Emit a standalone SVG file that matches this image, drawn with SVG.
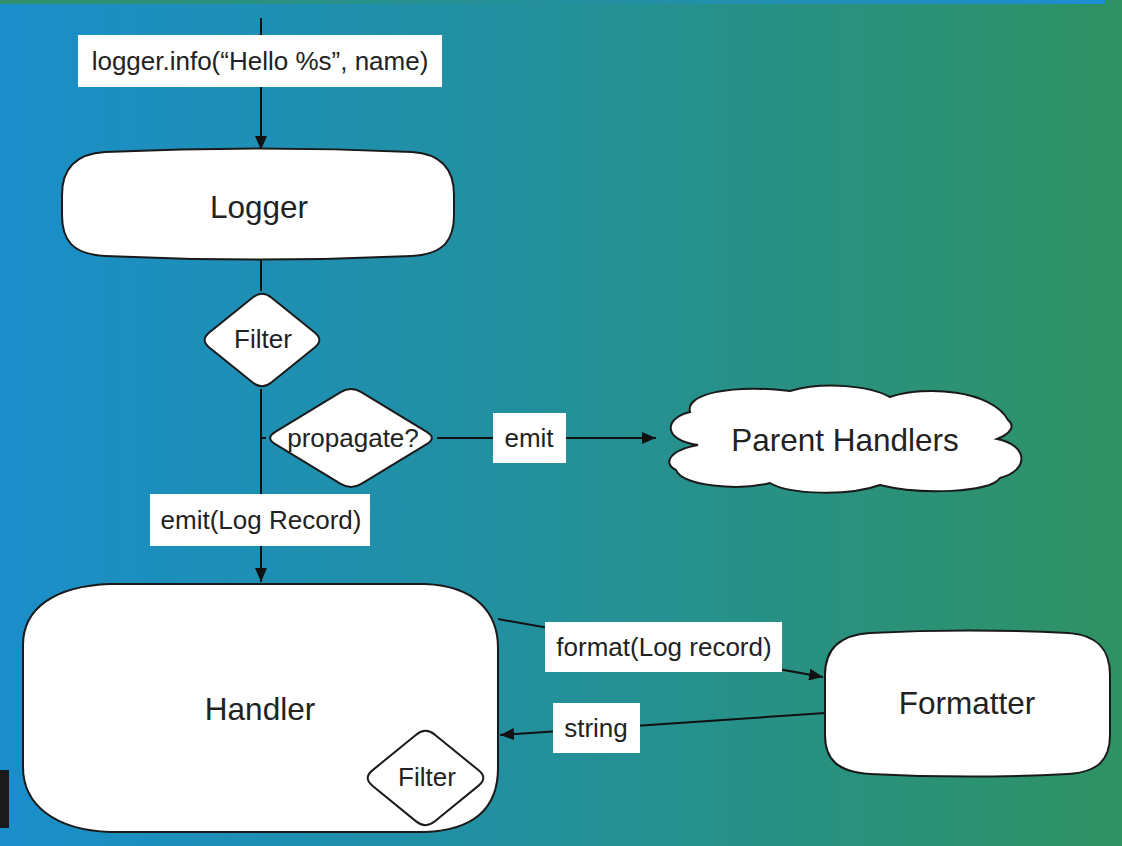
<svg xmlns="http://www.w3.org/2000/svg" width="1122" height="846" viewBox="0 0 1122 846">
<defs>
<linearGradient id="bg" x1="0" y1="0" x2="1" y2="0">
<stop offset="0" stop-color="#1a8ecb"/>
<stop offset="0.45" stop-color="#22909f"/>
<stop offset="1" stop-color="#2f9263"/>
</linearGradient>
<linearGradient id="stripe" x1="0" y1="0" x2="1" y2="0">
<stop offset="0" stop-color="#2e9168"/>
<stop offset="1" stop-color="#1c8fd3"/>
</linearGradient>
<marker id="arr" viewBox="0 0 14 12" refX="14" refY="6" markerWidth="14" markerHeight="12" markerUnits="userSpaceOnUse" orient="auto">
<path d="M0 0 L14 6 L0 12 Z" fill="#111"/>
</marker>
<style>
.shape{fill:#fff;stroke:#1a1a1a;stroke-width:2}
.lbl{fill:#fff}
.t{font-family:"Liberation Sans",Arial,sans-serif;fill:#222;text-anchor:middle;dominant-baseline:central}
.s{font-size:26px}
.b{font-size:31.5px}
.c{fill:none;stroke:#111;stroke-width:2}
</style>
</defs>
<rect x="0" y="0" width="1122" height="846" fill="url(#bg)"/>
<rect x="0" y="0" width="1105" height="4" fill="url(#stripe)"/>
<rect x="0" y="770" width="9" height="58" fill="#1a1a1a"/>

<g id="connectors">
<line class="c" x1="261" y1="18" x2="261" y2="150" marker-end="url(#arr)"/>
<line class="c" x1="261" y1="258" x2="261" y2="291"/>
<line class="c" x1="261" y1="389" x2="261" y2="582" marker-end="url(#arr)"/>
<line class="c" x1="261" y1="438" x2="266" y2="438"/>
<line class="c" x1="437" y1="438" x2="656" y2="438" marker-end="url(#arr)"/>
<line class="c" x1="498" y1="619" x2="823" y2="677" marker-end="url(#arr)"/>
<line class="c" x1="825" y1="713" x2="500" y2="735" marker-end="url(#arr)"/>
</g>

<g id="label-call">
<rect class="lbl" x="78" y="35" width="364" height="52"/>
<text class="t s" x="260" y="61">logger.info(“Hello %s”, name)</text>
</g>

<g id="logger">
<path class="shape" d="M105 152 Q258 145 412 152 C444 154 454 172 454 195 L454 215 C454 240 444 254 412 256 Q258 263 105 256 C72 254 62 240 62 215 L62 195 C62 172 72 154 105 152 Z"/>
<text class="t b" x="259" y="207">Logger</text>
</g>

<g id="filter1">
<path class="shape" d="M271.3 297.5 L314.7 332.5 Q324 340 314.7 347.5 L271.3 382.5 Q262 390 252.7 382.5 L209.3 347.5 Q200 340 209.3 332.5 L252.7 297.5 Q262 290 271.3 297.5 Z"/>
<text class="t s" x="263" y="339">Filter</text>
</g>

<g id="propagate">
<path class="shape" d="M361.3 392.2 L426.7 431.8 Q437 438 426.7 444.2 L361.3 483.8 Q351 490 340.7 483.8 L275.3 444.2 Q265 438 275.3 431.8 L340.7 392.2 Q351 386 361.3 392.2 Z"/>
<text class="t s" x="353" y="438">propagate?</text>
</g>

<g id="label-emit">
<rect class="lbl" x="493" y="413" width="73" height="50"/>
<text class="t s" x="529" y="438">emit</text>
</g>

<g id="parent-handlers">
<path class="shape" d="M698 445 C662 440 664 418 690 412 C685 394 730 384 790 391 C825 381 870 386 890 397 C925 385 992 390 1008 420 C1016 426 1010 434 997 439 C1028 445 1030 470 1000 478 C990 493 920 495 880 485 C850 496 790 495 770 483 C738 491 682 486 676 470 C662 463 670 450 698 445 Z"/>
<text class="t b" x="845" y="440">Parent Handlers</text>
</g>

<g id="label-emit-record">
<rect class="lbl" x="150" y="494" width="220" height="52"/>
<text class="t s" x="261" y="520">emit(Log Record)</text>
</g>

<g id="handler">
<path class="shape" d="M110 584 L425 584 C475 586 498 612 498 648 L498 768 C498 808 475 830 425 832 L110 832 C55 830 23 805 23 767 L23 645 C23 608 55 586 110 584 Z"/>
<text class="t b" x="260" y="709">Handler</text>
</g>

<g id="filter2">
<path class="shape" d="M434.9 734.65 L478.6 770.35 Q488 778 478.6 785.65 L434.9 821.35 Q425.5 829 416.1 821.35 L372.4 785.65 Q363 778 372.4 770.35 L416.1 734.65 Q425.5 727 434.9 734.65 Z"/>
<text class="t s" x="427" y="777">Filter</text>
</g>

<g id="label-format">
<rect class="lbl" x="545" y="622" width="237" height="50"/>
<text class="t s" x="664" y="647">format(Log record)</text>
</g>

<g id="label-string">
<rect class="lbl" x="553" y="703" width="87" height="50"/>
<text class="t s" x="596" y="728">string</text>
</g>

<g id="formatter">
<path class="shape" d="M870 633 Q968 628 1068 633 C1098 635 1110 650 1110 675 L1110 735 C1110 760 1098 772 1068 774 Q968 779 870 774 C838 772 825 760 825 735 L825 675 C825 650 838 635 870 633 Z"/>
<text class="t b" x="967" y="703">Formatter</text>
</g>
</svg>
